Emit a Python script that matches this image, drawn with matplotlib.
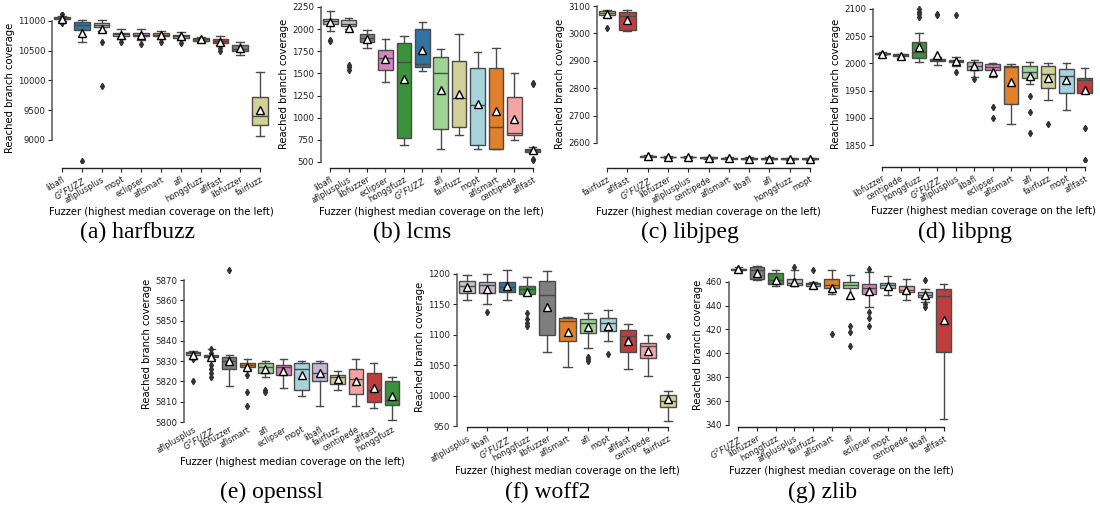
import numpy as np
import matplotlib.pyplot as plt
import seaborn as sns

W, H = 1100, 514
G2 = r'$G^2FUZZ$'

colors = {
    'libafl': '#c5b0d5', G2: '#1f77b4', 'aflplusplus': '#c7c7c7', 'mopt': '#9edae5',
    'eclipser': '#e377c2', 'aflsmart': '#ff7f0e', 'afl': '#98df8a', 'honggfuzz': '#2ca02c',
    'aflfast': '#d62728', 'libfuzzer': '#7f7f7f', 'fairfuzz': '#dbdb8d', 'centipede': '#ff9896',
}

# (a) harfbuzz
hb_names = ['libafl', G2, 'aflplusplus', 'mopt', 'eclipser', 'aflsmart', 'afl', 'honggfuzz', 'aflfast', 'libfuzzer', 'fairfuzz']
hb_q1 = [11035, 10850, 10900, 10750, 10740, 10740, 10720, 10660, 10630, 10490, 9250]
hb_med = [11048, 10930, 10930, 10780, 10770, 10770, 10750, 10690, 10660, 10530, 9400]
hb_q3 = [11062, 10990, 10960, 10800, 10800, 10800, 10770, 10710, 10690, 10600, 9720]
hb_lo = [11000, 10650, 10830, 10700, 10680, 10700, 10680, 10650, 10600, 10430, 9070]
hb_hi = [11090, 11020, 11010, 10860, 10870, 10840, 10810, 10730, 10750, 10650, 10150]
hb_mean = [11030, 10790, 10870, 10770, 10760, 10760, 10740, 10690, 10650, 10540, 9510]
hb_fliers = [[10970, 11110], [8650], [10650, 9910], [10650], [10620], [10650], [10630], [], [10540, 10500], [], []]

# (b) lcms
lc_names = ['libafl', 'aflplusplus', 'libfuzzer', 'eclipser', 'honggfuzz', G2, 'afl', 'fairfuzz', 'mopt', 'aflsmart', 'centipede', 'aflfast']
lc_q1 = [2055, 2040, 1860, 1540, 770, 1570, 870, 900, 690, 650, 810, 615]
lc_med = [2090, 2060, 1900, 1670, 1630, 1610, 1500, 1220, 1140, 900, 830, 630]
lc_q3 = [2115, 2100, 1940, 1760, 1840, 2000, 1680, 1640, 1560, 1560, 1230, 645]
lc_lo = [1980, 2000, 1790, 1400, 690, 1530, 650, 800, 650, 650, 750, 600]
lc_hi = [2200, 2130, 1990, 1890, 1920, 2080, 1780, 1940, 1740, 1790, 1500, 670]
lc_mean = [2080, 2010, 1890, 1660, 1440, 1760, 1310, 1270, 1150, 1070, 990, 640]
lc_fliers = [[1870, 1880], [1540, 1570, 1590], [], [], [], [], [], [], [], [], [], [520, 530, 1380, 1390]]

# (c) libjpeg
lj_names = ['fairfuzz', 'aflfast', G2, 'libfuzzer', 'aflplusplus', 'centipede', 'aflsmart', 'libafl', 'afl', 'honggfuzz', 'mopt']
lj_q1 = [3068, 3012, 2550, 2547, 2547, 2544, 2543, 2542, 2542, 2541, 2541]
lj_med = [3075, 3065, 2552, 2549, 2548, 2545, 2544, 2543, 2543, 2542, 2542]
lj_q3 = [3080, 3078, 2553, 2550, 2550, 2547, 2546, 2545, 2545, 2544, 2544]
lj_lo = [3060, 3008, 2549, 2545, 2545, 2542, 2541, 2540, 2540, 2539, 2539]
lj_hi = [3085, 3085, 2555, 2552, 2552, 2549, 2548, 2547, 2547, 2546, 2546]
lj_mean = [3072, 3050, 2551, 2549, 2548, 2545, 2544, 2543, 2543, 2542, 2542]
lj_fliers = [[3018], [], [], [], [], [], [], [], [], [], []]

# (d) libpng
lp_names = ['libfuzzer', 'centipede', 'honggfuzz', G2, 'aflplusplus', 'libafl', 'eclipser', 'aflsmart', 'afl', 'fairfuzz', 'mopt', 'aflfast']
lp_q1 = [2017, 2014, 2010, 2005, 2003, 1988, 1987, 1925, 1973, 1955, 1945, 1945]
lp_med = [2018, 2016, 2020, 2007, 2005, 1995, 1993, 1994, 1985, 1981, 1976, 1969]
lp_q3 = [2019, 2017, 2040, 2008, 2007, 2002, 1998, 1996, 1996, 1996, 1990, 1974]
lp_lo = [2015, 2010, 2003, 1997, 1995, 1975, 1975, 1888, 1963, 1933, 1915, 1945]
lp_hi = [2020, 2018, 2055, 2012, 2012, 2006, 2000, 1998, 2002, 2000, 2000, 1991]
lp_mean = [2017, 2014, 2030, 2016, 2005, 1995, 1985, 1965, 1977, 1973, 1970, 1951]
lp_fliers = [[], [], [2085, 2090, 2095, 2100], [2088, 2091], [1985, 2089], [1972], [1920, 1900], [], [1940, 1910, 1873], [1889], [], [1882, 1822]]

# (e) openssl
os_names = ['aflplusplus', G2, 'libfuzzer', 'aflsmart', 'afl', 'eclipser', 'mopt', 'libafl', 'fairfuzz', 'centipede', 'aflfast', 'honggfuzz']
os_q1 = [5833, 5832, 5826, 5827, 5824, 5823, 5816, 5820, 5819, 5814, 5810, 5808.5]
os_med = [5834, 5832.5, 5830, 5828, 5827, 5827, 5826, 5824, 5822, 5821, 5816, 5811]
os_q3 = [5834.5, 5833, 5832, 5829, 5829, 5828, 5829, 5829, 5823, 5826, 5824, 5820]
os_lo = [5831, 5831, 5818, 5826, 5822, 5817, 5813, 5808, 5816, 5808, 5807, 5801]
os_hi = [5835, 5836, 5833, 5831, 5830, 5831, 5830, 5830, 5825, 5831, 5829, 5822]
os_mean = [5833, 5832, 5830, 5827, 5826, 5825, 5823, 5824, 5821, 5820, 5817, 5813]
os_fliers = [[5820, 5831], [5822, 5824, 5826, 5828, 5834, 5836], [5875], [5823, 5815, 5808], [5816, 5815], [], [], [], [], [], [], []]

# (f) woff2
wf_names = ['aflplusplus', 'libafl', G2, 'honggfuzz', 'libfuzzer', 'aflsmart', 'afl', 'mopt', 'aflfast', 'centipede', 'fairfuzz']
wf_q1 = [1168, 1168, 1170, 1167, 1100, 1090, 1103, 1106, 1071, 1061, 982]
wf_med = [1180, 1181, 1178, 1176, 1165, 1123, 1120, 1120, 1098, 1082, 991]
wf_q3 = [1188, 1186, 1187, 1180, 1188, 1127, 1126, 1128, 1107, 1087, 1001]
wf_lo = [1157, 1151, 1157, 1165, 1071, 1047, 1079, 1090, 1043, 1032, 959]
wf_hi = [1198, 1200, 1206, 1195, 1204, 1130, 1136, 1140, 1118, 1099, 1008]
wf_mean = [1178, 1176, 1180, 1170, 1146, 1105, 1112, 1115, 1090, 1074, 995]
wf_fliers = [[], [1138], [], [1136, 1126, 1120, 1114], [], [], [1064, 1060, 1057], [1068], [], [], [1098]]

# (g) zlib
zl_names = [G2, 'libfuzzer', 'honggfuzz', 'aflplusplus', 'fairfuzz', 'aflsmart', 'afl', 'eclipser', 'mopt', 'centipede', 'libafl', 'aflfast']
zl_q1 = [470, 462, 458, 457, 456, 455, 455, 450, 455, 451, 447, 401]
zl_med = [470.5, 470, 461, 459, 458, 457, 457, 455, 457, 453, 449, 448]
zl_q3 = [471, 472, 467, 462, 459, 462, 460, 458, 459, 456, 451, 454]
zl_lo = [469, 461, 456, 456, 455, 450, 446, 439, 449, 445, 443, 345]
zl_hi = [472, 473, 470, 470, 460, 470, 466, 468, 465, 462, 454, 458]
zl_mean = [470.5, 467, 461, 460, 457.5, 455, 449, 452, 456, 453, 449, 428]
zl_fliers = [[], [], [], [472], [470], [416], [423, 418, 406], [435, 430, 423, 471], [], [], [461, 439, 441], []]

fig = plt.figure(figsize=(W / 100, H / 100), dpi=100)


def draw(px, ylim, yticks, names, q1, med, q3, lo, hi, mean, fliers, caption, cap_xy,
         xoff=4, bottom_spine=True):
    left, width, top, bottom = px
    ax = fig.add_axes([left / W, 1 - bottom / H, width / W, (bottom - top) / H])
    stats = []
    for i in range(len(names)):
        stats.append(dict(q1=q1[i], med=med[i], q3=q3[i], whislo=lo[i], whishi=hi[i],
                          mean=mean[i], fliers=fliers[i]))
    edge = '#4a4a4a'
    bp = ax.bxp(stats, positions=range(len(names)), widths=0.8, capwidths=0.4,
                patch_artist=True, showmeans=True,
                boxprops=dict(edgecolor=edge, linewidth=1.0),
                medianprops=dict(color=edge, linewidth=1.0),
                whiskerprops=dict(color=edge, linewidth=1.0),
                capprops=dict(color=edge, linewidth=1.0),
                flierprops=dict(marker='d', markerfacecolor='#333333', markeredgecolor='#333333',
                                markersize=3.2),
                meanprops=dict(marker='^', markerfacecolor='white', markeredgecolor='black',
                               markersize=6, markeredgewidth=1.0))
    for patch, n in zip(bp['boxes'], names):
        patch.set_facecolor(sns.desaturate(colors[n], 0.75))
    ax.set_xlim(-0.5, len(names) - 0.5)
    ax.set_ylim(*ylim)

    # spines first: set_position resets the ticks
    for s in ['top', 'right']:
        ax.spines[s].set_visible(False)
    ax.spines['bottom'].set_position(('outward', xoff * 0.72))
    ax.spines['left'].set_bounds(yticks[0], yticks[-1])
    ax.spines['bottom'].set_bounds(0, len(names) - 1)
    ax.spines['left'].set_color('#555555')
    ax.spines['left'].set_linewidth(1.1)
    ax.spines['bottom'].set_color('#222222')
    ax.spines['bottom'].set_linewidth(1.0)
    if not bottom_spine:
        ax.spines['bottom'].set_visible(False)

    ax.tick_params(labelsize=6.2, length=3, width=0.8, pad=2, colors='#222222')
    if not bottom_spine:
        ax.tick_params(axis='x', length=0)
    ax.set_yticks(yticks)
    ax.set_xticks(range(len(names)))
    ax.set_xticklabels(names, rotation=30, ha='right', va='top',
                       rotation_mode='anchor', fontsize=5.9)

    ax.set_ylabel('Reached branch coverage', fontsize=7.2, labelpad=2)
    ax.set_xlabel('Fuzzer (highest median coverage on the left)', fontsize=7.2, labelpad=1.5)
    fig.text(cap_xy[0] / W, 1 - cap_xy[1] / H, caption, fontsize=17,
             family='Liberation Serif', ha='center', va='center')
    return ax


draw((52, 218, 12, 163), (8613, 11151), np.arange(9000, 11001, 500),
     hb_names, hb_q1, hb_med, hb_q3, hb_lo, hb_hi, hb_mean, hb_fliers,
     '(a) harfbuzz', (138, 232), xoff=5)
draw((321, 221, 3, 164), (477, 2295), np.arange(500, 2251, 250),
     lc_names, lc_q1, lc_med, lc_q3, lc_lo, lc_hi, lc_mean, lc_fliers,
     '(b) lcms', (412, 232), xoff=4)
draw((597, 223, 3, 164), (2523, 3111), np.arange(2600, 3101, 100),
     lj_names, lj_q1, lj_med, lj_q3, lj_lo, lj_hi, lj_mean, lj_fliers,
     '(c) libjpeg', (690, 232), xoff=4)
draw((873, 221, 5, 162), (1819, 2107), np.arange(1850, 2101, 50),
     lp_names, lp_q1, lp_med, lp_q3, lp_lo, lp_hi, lp_mean, lp_fliers,
     '(d) libpng', (965, 232), xoff=5)
draw((184, 217, 266, 422), (5800, 5877), np.arange(5800, 5871, 10),
     os_names, os_q1, os_med, os_q3, os_lo, os_hi, os_mean, os_fliers,
     '(e) openssl', (272, 492), xoff=0, bottom_spine=False)
draw((457, 221, 266, 427), (948.4, 1213), np.arange(950, 1201, 50),
     wf_names, wf_q1, wf_med, wf_q3, wf_lo, wf_hi, wf_mean, wf_fliers,
     '(f) woff2', (548, 492), xoff=0)
draw((729, 224, 264, 425), (340, 474.8), np.arange(340, 461, 20),
     zl_names, zl_q1, zl_med, zl_q3, zl_lo, zl_hi, zl_mean, zl_fliers,
     '(g) zlib', (823, 492), xoff=2)

fig.savefig('out.png', dpi=100)
